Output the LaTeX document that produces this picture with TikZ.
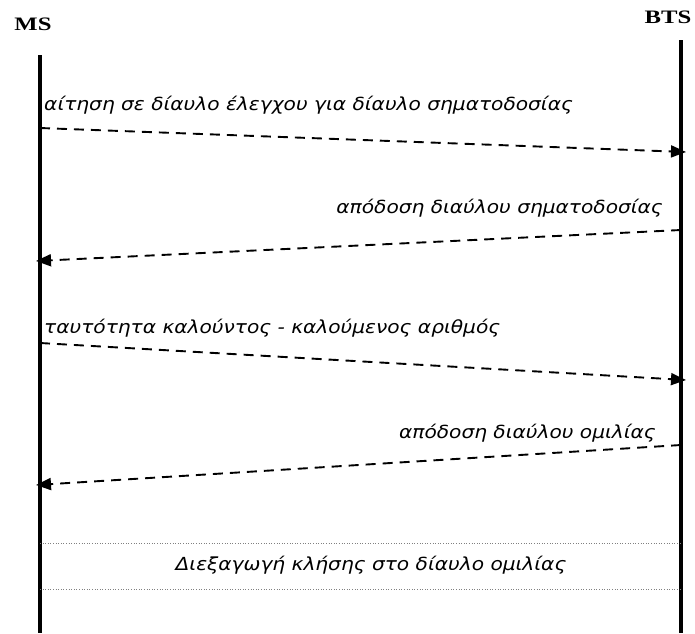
\documentclass[tikz,border=0pt]{standalone}
\usepackage{fontspec}
\setmainfont{Liberation Serif}
\newfontfamily\msgfont{DejaVu Sans}
\usetikzlibrary{arrows.meta}
\begin{document}
\begin{tikzpicture}[x=1pt,y=-1pt,
  lifeline/.style={line width=3.5pt},
  msg/.style={line width=1.9pt, dash pattern=on 10pt off 7pt, -{Triangle[length=15pt,width=12pt]}},
  msglabel/.style={font=\msgfont\itshape\fontsize{18}{21}\selectfont, inner sep=0pt, xscale=1.12},
  entity/.style={font=\bfseries\fontsize{19}{22}\selectfont, inner sep=0pt, xscale=1.3},
  phase/.style={line width=0.6pt, dotted, gray}]
\useasboundingbox (0,0) rectangle (695,633);
% entities
\node[entity] (ms) at (33,24) {MS};
\node[entity] (bts) at (668,17) {BTS};
% lifelines
\coordinate (mstop) at (40,55);
\coordinate (msbot) at (40,633);
\coordinate (btstop) at (681,40);
\coordinate (btsbot) at (681,633);
\draw[lifeline] (mstop) -- (msbot);
\draw[lifeline] (btstop) -- (btsbot);
% message end points
\coordinate (m1s) at (40,128);  \coordinate (m1e) at (686,152);
\coordinate (m2s) at (681,230); \coordinate (m2e) at (36,261);
\coordinate (m3s) at (40,343);  \coordinate (m3e) at (686,380);
\coordinate (m4s) at (681,445); \coordinate (m4e) at (36,485);
% messages
\draw[msg] (m1s) -- (m1e);
\node[msglabel, anchor=west] (l1) at (44,105) {αίτηση σε δίαυλο έλεγχου για δίαυλο σηματοδοσίας};
\draw[msg] (m2s) -- (m2e);
\node[msglabel, anchor=east] (l2) at (663,208) {απόδοση διαύλου σηματοδοσίας};
\draw[msg] (m3s) -- (m3e);
\node[msglabel, anchor=west] (l3) at (44,328) {ταυτότητα καλούντος - καλούμενος αριθμός};
\draw[msg] (m4s) -- (m4e);
\node[msglabel, anchor=east] (l4) at (656,433) {απόδοση διαύλου ομιλίας};
% call phase
\coordinate (p1a) at (40,543); \coordinate (p1b) at (681,543);
\coordinate (p2a) at (40,589); \coordinate (p2b) at (681,589);
\draw[phase] (p1a) -- (p1b);
\draw[phase] (p2a) -- (p2b);
\node[msglabel] (l5) at (371,565) {Διεξαγωγή κλήσης στο δίαυλο ομιλίας};
\end{tikzpicture}
\end{document}
